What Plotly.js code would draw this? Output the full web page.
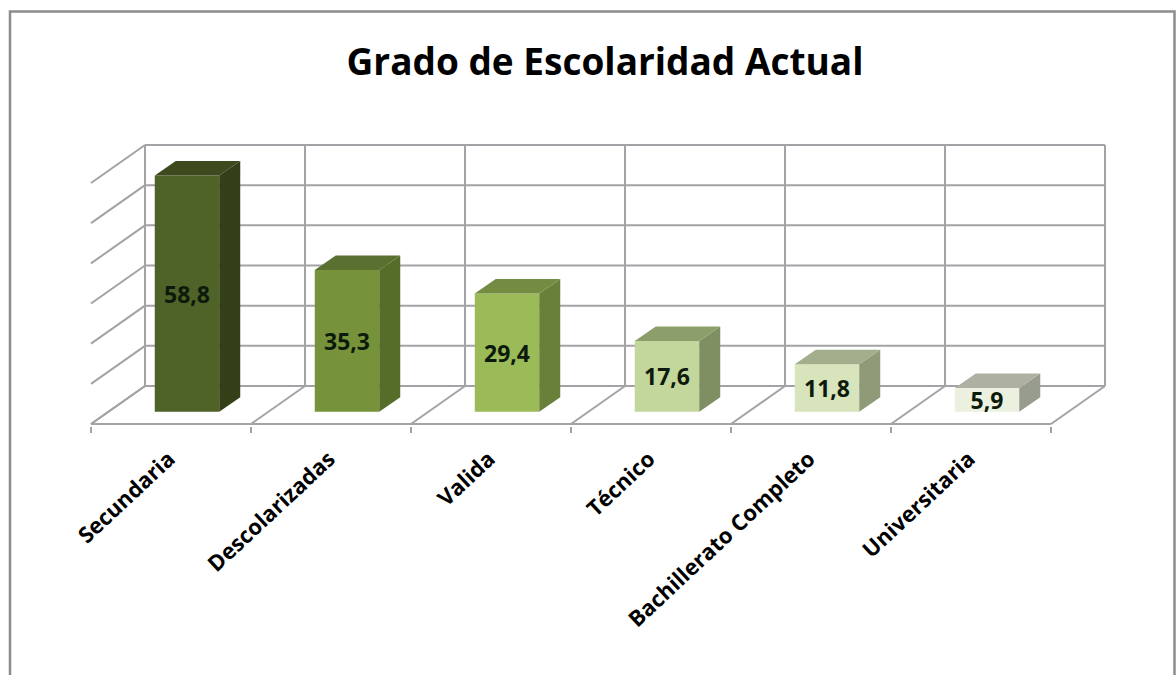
<!DOCTYPE html>
<html>
<head>
<meta charset="utf-8">
<script src="https://cdn.plot.ly/plotly-3.0.1.min.js"></script>
<style>html,body{margin:0;padding:0;background:#fff}#c{width:1176px;height:675px}</style>
</head>
<body>
<div id="c"></div>
<script>
const categories = ["Secundaria","Descolarizadas","Valida","Técnico","Bachillerato Completo","Universitaria"];
const values = [58.8,35.3,29.4,17.6,11.8,5.9];
const frontColors = ["#4f6228","#76933c","#9bbb59","#c3d69b","#d7e4bc","#ebf1de"];
const sideColors = ["#333f17","#566d2a","#69803b","#7f8f62","#8f9a79","#989c8e"];
const topColors = ["#3c4a1e","#5a7030","#738c42","#8c9f6b","#a2ae8c","#aeb0a2"];
const gridValues = [0,10,20,30,40,50,60];

const W = 1176, H = 675;
const catPx = 160, unitPx = 241/60;
const floorDx = 54/catPx, floorDy = 38/unitPx;
const barOffset = 0.1, barWidth = 0.403;
const barBase = -25.7/unitPx;
const depthX = 21/catPx, depthY = 14.5/unitPx;
const pad = 2;
const gridColor = "#a3a3a7";
const mL = 91-pad, mR = W-1105-pad, mT = 145-pad, mB = H-424-pad;
const plotW = W-mL-mR, plotH = H-mT-mB;

const idx = categories.map((_,i)=>i);
const shapes = [];
function seg(x0,y0,x1,y1){
  shapes.push({type:"line",xref:"x",yref:"y",layer:"below",x0,y0,x1,y1,line:{color:gridColor,width:2}});
}
const xL = -0.5, xR = categories.length-0.5;
gridValues.forEach(v=>{
  seg(xL+floorDx,v,xR+floorDx,v);
  seg(xL,v-floorDy,xL+floorDx,v);
});
for(let k=0;k<=categories.length;k++){
  const xb = xL+k+floorDx;
  seg(xb,gridValues[0],xb,gridValues[gridValues.length-1]);
  seg(xL+k,-floorDy,xb,0);
}
seg(xL,-floorDy,xR,-floorDy);
shapes.push({type:"rect",xref:"paper",yref:"paper",layer:"below",
  x0:(10-mL)/plotW,x1:(1174.5-mL)/plotW,y0:(H-mB-680)/plotH,y1:(H-mB-11.5)/plotH,
  line:{color:"#8c8c8c",width:2.5},fillcolor:"rgba(0,0,0,0)"});

const faces = [];
idx.forEach(i=>{
  const l = i+barOffset-barWidth/2, r = i+barOffset+barWidth/2;
  const t = barBase+values[i];
  faces.push({type:"scatter",mode:"lines",x:[r,r+depthX,r+depthX,r,r],
    y:[barBase,barBase+depthY,t+depthY,t,barBase],fill:"toself",fillcolor:sideColors[i],
    line:{width:0,color:sideColors[i]},hoverinfo:"skip",showlegend:false,cliponaxis:false});
  faces.push({type:"scatter",mode:"lines",x:[l,r,r+depthX,l+depthX,l],
    y:[t,t,t+depthY,t+depthY,t],fill:"toself",fillcolor:topColors[i],
    line:{width:0,color:topColors[i]},hoverinfo:"skip",showlegend:false,cliponaxis:false});
});

const bars = {type:"bar",x:idx,y:values,base:barBase,width:barWidth,offset:barOffset-barWidth/2,
  marker:{color:frontColors,line:{width:0}},
  text:values.map(v=>v.toFixed(1).replace(".",",")),
  textposition:"inside",insidetextanchor:"middle",textangle:0,constraintext:"none",
  insidetextfont:{family:"'Open Sans', sans-serif",size:23,color:"#0c1a0c",weight:"bold"},
  hoverinfo:"skip",showlegend:false};

const layout = {
  width:W,height:H,paper_bgcolor:"#ffffff",plot_bgcolor:"rgba(0,0,0,0)",showlegend:false,
  margin:{l:mL,r:mR,t:mT,b:mB,pad:0},
  title:{text:"Grado de Escolaridad Actual",x:605/W,xanchor:"center",xref:"container",y:1-62/H,yanchor:"middle",yref:"container",
    font:{family:"'Open Sans', sans-serif",size:37,color:"#000000",weight:"bold"}},
  xaxis:{type:"linear",range:[xL-pad/catPx,xR+floorDx+pad/catPx],tickmode:"array",tickvals:idx,ticktext:categories,
    ticks:"",showgrid:false,zeroline:false,showline:false,tickangle:-43,ticklabelstandoff:15,ticklabelshift:-2,
    tickfont:{family:"'Open Sans', sans-serif",size:22,color:"#000000",weight:"bold"},
    minor:{ticks:"outside",tick0:-0.5,dtick:1,ticklen:6,tickwidth:2,tickcolor:gridColor,showgrid:false}},
  yaxis:{type:"linear",range:[-floorDy-pad/unitPx,gridValues[gridValues.length-1]+pad/unitPx],visible:false,showgrid:false,zeroline:false},
  shapes
};
Plotly.newPlot("c",[bars].concat(faces),layout,{displayModeBar:false,responsive:false});
</script>
</body>
</html>
